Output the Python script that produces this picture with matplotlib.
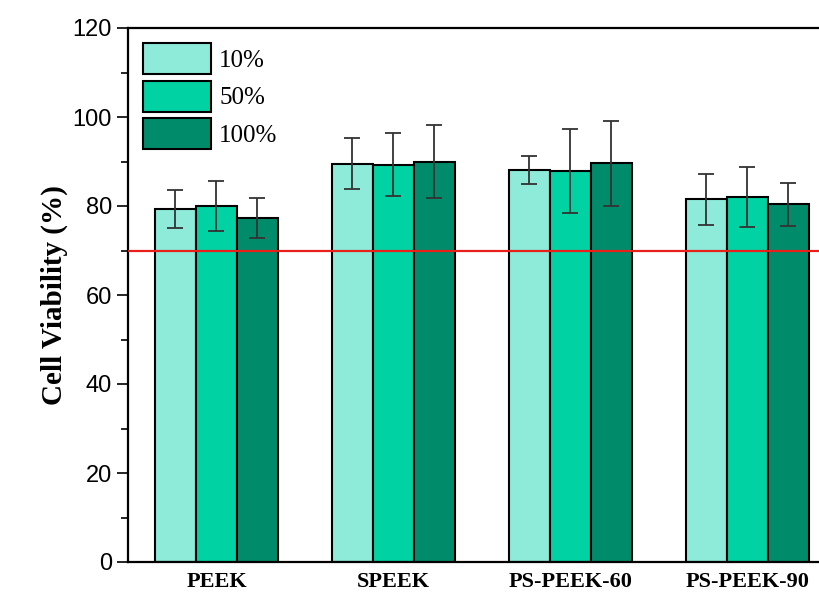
import numpy as np
import matplotlib.pyplot as plt
from matplotlib.ticker import MultipleLocator

# data
groups = ["PEEK", "SPEEK", "PS-PEEK-60", "PS-PEEK-90"]
series = ["10%", "50%", "100%"]
v10 = [79.3, 89.5, 88.1, 81.5]
v50 = [80.0, 89.3, 87.8, 82.0]
v100 = [77.3, 90.0, 89.6, 80.4]
e10 = [4.3, 5.7, 3.1, 5.7]
e50 = [5.6, 7.0, 9.4, 6.8]
e100 = [4.6, 8.3, 9.5, 4.8]
threshold = 70

colors = ["#8EEBDA", "#00D2A3", "#008B6B"]

plt.rcParams['font.family'] = ['Liberation Sans', 'DejaVu Sans']

fig = plt.figure(figsize=(8.19, 5.92), dpi=100)
ax = fig.add_axes([128/819, 1 - 562/592, (835.5 - 128)/819, (562 - 28)/592])

x = np.arange(len(groups))
w = 0.232
vals = [v10, v50, v100]
errs = [e10, e50, e100]
for i in range(3):
    ax.bar(x + (i - 1) * w, vals[i], w, yerr=errs[i], color=colors[i],
           edgecolor='black', linewidth=1.5, label=series[i],
           error_kw=dict(ecolor='#333333', elinewidth=1.3, capsize=5.5, capthick=1.3),
           zorder=2)

ax.axhline(threshold, color='#E8201C', linewidth=1.6, zorder=3)

ax.set_xlim(-0.5, len(groups) - 0.5)
ax.set_ylim(0, 120)
ax.yaxis.set_major_locator(MultipleLocator(20))
ax.yaxis.set_minor_locator(MultipleLocator(10))
ax.tick_params(axis='y', which='major', length=8, width=1.2, labelsize=17, direction='out')
ax.tick_params(axis='y', which='minor', length=5, width=1.2, direction='out')
ax.tick_params(axis='x', length=0, pad=7)
ax.set_xticks(x)
ax.set_xticklabels(groups, fontsize=16, fontweight='bold', family=['Liberation Serif'])
ax.set_ylabel("Cell Viability (%)", fontsize=21, fontweight='bold',
              family=['Liberation Serif'], labelpad=3)
for s in ax.spines.values():
    s.set_linewidth(1.6)

ax.legend(loc='upper left', bbox_to_anchor=(0.0, 1.0), frameon=False,
          prop={'family': 'Liberation Serif', 'size': 18},
          handlelength=2.7, handleheight=1.55, labelspacing=0.25,
          handletextpad=0.35, borderaxespad=0.2)

fig.savefig("out.png", dpi=100)
